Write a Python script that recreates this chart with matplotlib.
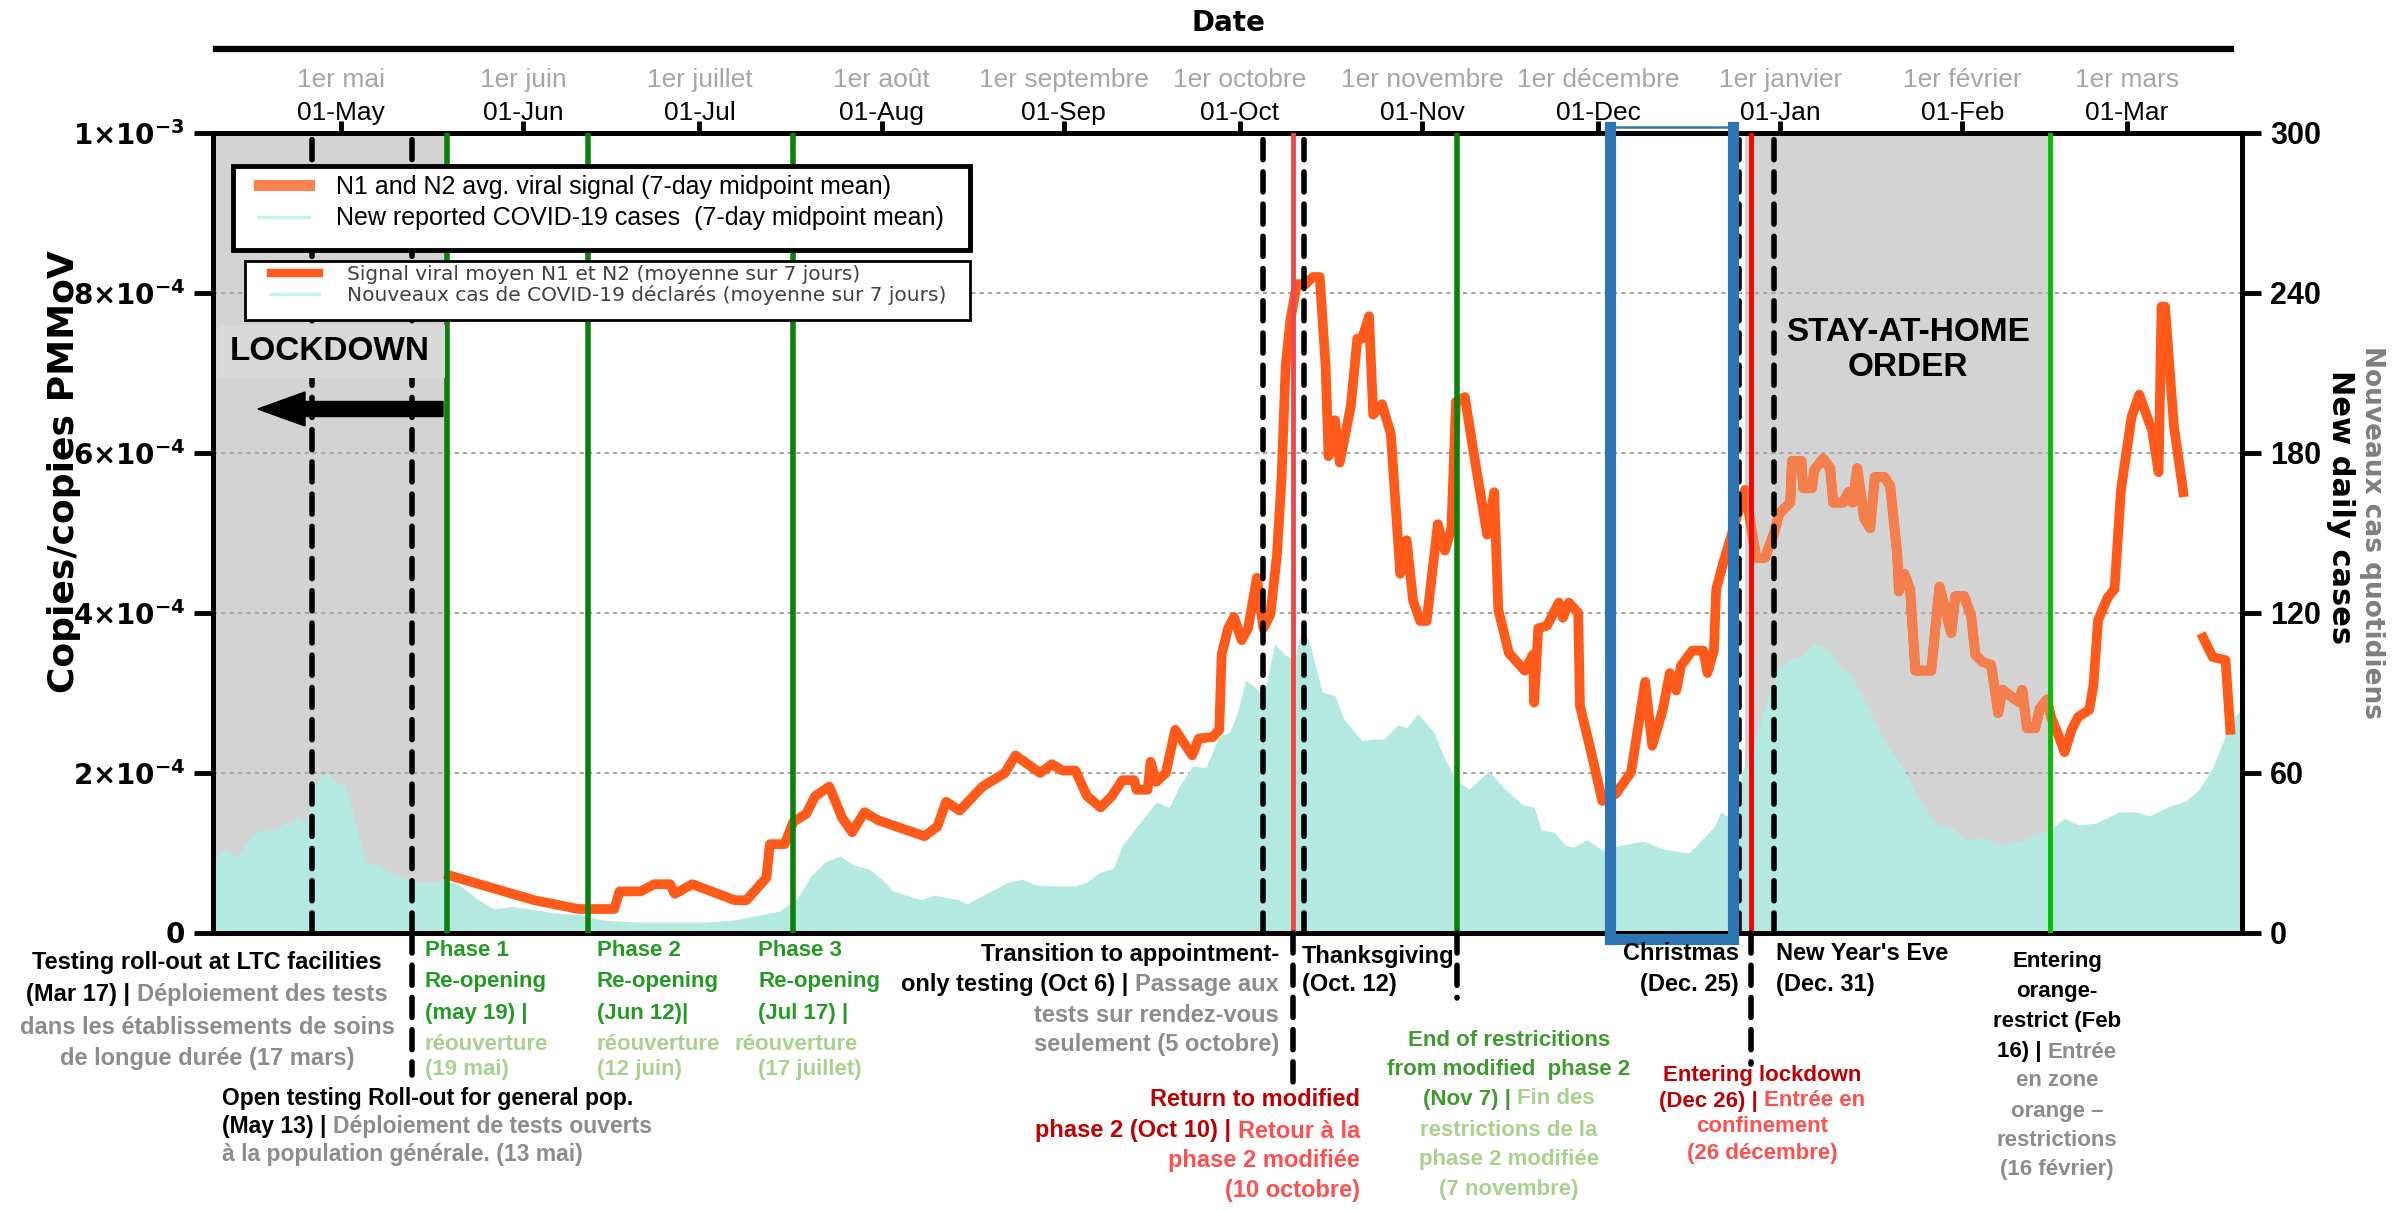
import numpy as np
import matplotlib
matplotlib.use("Agg")
import matplotlib.pyplot as plt
import matplotlib.dates as mdates
from matplotlib import font_manager as fm
from matplotlib.lines import Line2D
from matplotlib.patches import Rectangle, FancyArrow
from datetime import datetime

W, H = 2407, 1210

names = {f.name for f in fm.fontManager.ttflist}
NARROW = "Liberation Sans Narrow" if "Liberation Sans Narrow" in names else "Liberation Sans"
plt.rcParams["font.family"] = "Liberation Sans"
plt.rcParams["mathtext.fontset"] = "dejavusans"

# -------------------------------------------------------
# Data (days counted from 2020-05-01)
# -------------------------------------------------------
BASE = mdates.date2num(datetime(2020, 5, 1))

# N1/N2 viral signal, x 1e-4 copies/copies PMMoV
viral_day = [18.4, 32.9, 40.4, 46.5, 47.4, 51, 53.3, 56, 56.8, 59.8, 67, 69, 72.4, 73, 75.5, 77,
             79.2, 80.7, 83.1, 85.3, 87, 89.1, 91.4, 99.3, 101.5, 103, 105.3, 109.2, 113, 114.8,
             119, 121, 122.8, 125, 127, 129.3, 131.2, 133, 135, 135.4, 137.3, 137.8, 138.8, 140.4,
             142, 144.9, 146, 148.4, 149.5, 149.9, 151, 152, 153.3, 154.4, 155.9, 157, 158.2, 159.3,
             160.1, 160.8, 161.6, 162.7, 164.2, 165.4, 166.6, 167.6, 168.1, 169.2, 170, 171.9, 173,
             173.8, 175, 175.7, 177.2, 178.7, 179.9, 180.3, 181.4, 182.5, 183.7, 184.8, 186.7, 187.9,
             189, 189.8, 191.3, 192.9, 194.7, 195.1, 196.3, 197, 198.8, 201.5, 202.9, 203.1, 203.8,
             205.3, 207.3, 208, 209, 210.6, 210.9, 212.8, 214.7, 217, 219.6, 222, 223.2, 225, 226.2,
             227.3, 228.1, 230, 231.9, 232.6, 233.7, 234.1, 235.3, 236.4, 239, 240.9, 242.4, 244,
             244.8, 246.7, 247, 248.6, 248.9, 250.4, 250.8, 252.3, 253.5, 254, 255.7, 256.6, 257.3,
             258.1, 259.3, 260.3, 261.1, 262.7, 263.7, 264.9, 265.2, 266.1, 267.1, 268, 270.7, 272.1,
             274.1, 274.8, 276.3, 277.5, 278.2, 279.4, 280.9, 282.1, 282.8, 285.5, 286.2, 287, 288.4,
             289.2, 290.4, 291.1, 292.3, 293.4, 294.6, 295.7, 297.6, 298.3, 299.1, 300.7, 301.9, 303,
             304.8, 306.1, 308.3, 309.4, 309.9, 310.5, 312, 313.6]
viral_val = [0.72, 0.41, 0.30, 0.30, 0.52, 0.52, 0.61, 0.61, 0.49, 0.61, 0.41, 0.41, 0.69, 1.11, 1.11, 1.39,
             1.49, 1.71, 1.83, 1.44, 1.26, 1.51, 1.41, 1.21, 1.33, 1.64, 1.53, 1.83, 2.00, 2.22,
             2.00, 2.11, 2.03, 2.03, 1.71, 1.57, 1.71, 1.91, 1.91, 1.79, 1.79, 2.14, 1.89, 2.00,
             2.54, 2.22, 2.43, 2.45, 2.54, 3.48, 3.81, 3.95, 3.66, 3.81, 4.44, 3.81, 3.98, 4.71,
             5.68, 7.09, 7.66, 8.11, 8.11, 8.20, 8.20, 7.09, 5.96, 6.41, 5.88, 6.59, 7.43,
             7.43, 7.71, 6.48, 6.61, 6.24, 4.94, 4.49, 4.91, 4.15, 3.90, 3.90, 5.11, 4.78,
             5.05, 6.64, 6.70, 5.96, 5.16, 4.98, 5.51, 4.04, 3.50, 3.28, 3.48, 2.88, 3.81,
             3.84, 4.13, 3.94, 4.13, 4.00, 2.84, 2.26, 1.65, 1.74, 2.01, 3.14, 2.34, 2.79, 3.25,
             3.03, 3.34, 3.53, 3.53, 3.25, 3.53, 4.30, 4.63, 4.90, 5.54, 4.69, 4.69, 5.01,
             5.24, 5.38, 5.90, 5.90, 5.56, 5.56, 5.79, 5.93, 5.81, 5.38, 5.38, 5.51, 5.38,
             5.81, 5.18, 5.06, 5.70, 5.70, 5.59, 4.74, 4.27, 4.49, 4.30, 3.28, 3.28, 4.33,
             3.75, 4.21, 4.21, 3.96, 3.48, 3.39, 3.35, 2.75, 3.04, 2.89, 3.04, 2.56, 2.56,
             2.81, 2.92, 2.70, 2.48, 2.26, 2.54, 2.70, 2.79, 3.09, 3.91, 4.19, 4.30, 5.54,
             6.45, 6.73, 6.28, 5.76, 7.83, 7.83, 6.34, 5.51]
viral2_day = [317, 318.6, 320.8, 321.6]
viral2_val = [3.69, 3.45, 3.41, 2.54]

# new reported cases (7-day midpoint mean)
case_day = [-21.5, -19.6, -17.7, -16.2, -14.3, -12, -10.6, -9.7, -8.2, -7.5, -6, -4.8, -3.6, -2.2,
            -0.7, 0.5, 1.7, 3.2, 4.3, 6.3, 8.5, 10.7, 12.3, 14.6, 17.2, 19.9, 23, 26, 29.1, 32,
            36.6, 41.2, 44.3, 50.4, 56.4, 62, 67, 74.6, 77.7, 80, 82.3, 85, 87.2, 89.9, 92.2,
            93.9, 98.8, 100.9, 105.3, 106.5, 110.7, 113.6, 116, 118.2, 122.1, 125, 127, 129,
            131.5, 133, 135.4, 138.8, 141, 142.6, 145, 147.2, 149.4, 151.3, 152.5, 154, 155.5,
            157.1, 158.9, 160.8, 162.3, 163.5, 164.7, 165.8, 167, 169.2, 170.7, 173.8, 175.3,
            177.5, 179.9, 181.4, 183.3, 186, 187.9, 189.8, 192, 195.4, 198.1, 201.2, 203.1,
            204.3, 206.5, 208.4, 209.7, 212.1, 214.7, 218.1, 221.6, 225, 229.5, 231.9, 233.7,
            234.9, 236.5, 238.5, 241.4, 242.9, 244.8, 246.3, 248.6, 250.8, 253.2, 255, 256.9,
            260, 263, 266.1, 268.3, 271.4, 274.4, 276.6, 279.7, 282.1, 286.5, 291.1, 293.4,
            295.7, 298.7, 302.6, 305.6, 307.8, 310.9, 314, 316.2, 318.6, 320.8, 322.3, 323.6]
case_val = [28.9, 31.5, 28.5, 33.7, 38.2, 38.5, 39.7, 41.2, 41.2, 44, 41, 52.9, 58.9, 59.6,
            56.2, 55.5, 48, 34.9, 26.6, 25.5, 22.5, 20.6, 19.1, 19.1, 19.9, 18.4, 13.1, 9, 10, 9,
            7.5, 6.7, 4.9, 4.1, 4.1, 4.1, 4.9, 8.2, 13.1, 21.4, 26.6, 28.9, 25.5, 24, 19.9,
            15.8, 12.4, 14.2, 12.4, 10.9, 15.8, 19.1, 20.2, 18, 17.6, 17.6, 19.1, 22.5,
            24.4, 33, 39.7, 49.1, 47.2, 54.7, 62.6, 61.9, 73.5, 75.4, 82.1, 94.9, 92.2,
            88.9, 108.4, 104.2, 102.4, 113.6, 109.9, 100.9, 90.4, 88.9, 80.2, 72, 72.7,
            72.7, 78, 77, 82.1, 75.4, 65.2, 57.4, 54, 60.7, 54, 48, 47.2,
            38.6, 37.9, 33, 32.2, 34.9, 31.1, 33, 34.5, 31.5, 30, 35.6, 39.7,
            45.4, 43, 60, 76.9, 89.2, 99.4, 102.4, 104.2, 108.4, 106.5, 100.1, 97.5,
            84.4, 71.2, 61.1, 51.4, 41.2, 39, 34.9, 35.6, 33, 34.9, 39, 43.1,
            40.5, 41.2, 45.4, 45.4, 43.9, 47.2, 49.5, 53.6, 61.9, 74.2, 81, 84]

month_dates = ["2020-05-01", "2020-06-01", "2020-07-01", "2020-08-01", "2020-09-01", "2020-10-01",
               "2020-11-01", "2020-12-01", "2021-01-01", "2021-02-01", "2021-03-01"]
month_en = ["01-May", "01-Jun", "01-Jul", "01-Aug", "01-Sep", "01-Oct", "01-Nov", "01-Dec",
            "01-Jan", "01-Feb", "01-Mar"]
month_fr = ["1er mai", "1er juin", "1er juillet", "1er août", "1er septembre", "1er octobre",
            "1er novembre", "1er décembre", "1er janvier", "1er février", "1er mars"]

dashed_dates = ["2020-04-26", "2020-05-13", "2020-10-05", "2020-10-12", "2020-12-25", "2020-12-31"]
green_dates = ["2020-05-19", "2020-06-12", "2020-07-17", "2020-11-07"]
red_dates = ["2020-10-10", "2020-12-27"]
orange_zone_date = "2021-02-16"
lockdown_end = "2020-05-19"
stay_home = ("2020-12-26", "2021-02-16")
christmas_box = ("2020-12-03", "2020-12-24")
# dashed leader lines below the axis: date, bottom pixel row
leaders = [("2020-05-13", 1075), ("2020-10-10", 1082), ("2020-11-07", 998), ("2020-12-27", 1064)]

left_ticks = [0, 2e-4, 4e-4, 6e-4, 8e-4, 1e-3]
left_labels = ["$\\mathbf{0}$", "$\\mathbf{2{\\times}10^{-4}}$", "$\\mathbf{4{\\times}10^{-4}}$",
               "$\\mathbf{6{\\times}10^{-4}}$", "$\\mathbf{8{\\times}10^{-4}}$",
               "$\\mathbf{1{\\times}10^{-3}}$"]
right_ticks = [0, 60, 120, 180, 240, 300]

ORANGE = "#FF5A1A"
ORANGE_LIGHT = "#F47E4C"
TEAL = "#B3E9E0"
GREY_BG = "#D3D3D3"
K = "#000000"
G = "#8C8C8C"
DG = "#239B23"
LG = "#A9D18E"
DR = "#C00000"
LR = "#FF5050"


def d(s):
    return mdates.datestr2num(s)


# -------------------------------------------------------
# Figure
# -------------------------------------------------------
fig = plt.figure(figsize=(W / 100, H / 100), dpi=100)
ax = fig.add_axes([213 / W, 1 - 933 / H, (2242 - 213) / W, 800 / H])
ax2 = ax.twinx()

x0, x1 = BASE - 21.8, BASE + 323.6
ax.set_xlim(x0, x1)
ax.set_ylim(0, 300)
ax2.set_ylim(0, 1e-3)

# cases axis on the right, viral axis on the left
ax.yaxis.tick_right()
ax.yaxis.set_label_position("right")
ax2.yaxis.tick_left()
ax2.yaxis.set_label_position("left")

ax.axvspan(x0, d(lockdown_end), color=GREY_BG, lw=0, zorder=0)
ax.axvspan(d(stay_home[0]), d(stay_home[1]), color=GREY_BG, lw=0, zorder=0)

ax.set_axisbelow("line")
ax.set_yticks(right_ticks)
ax.grid(axis="y", color="#A6A6A6", ls=(0, (2, 2)), lw=1.5)

cx = BASE + np.array(case_day)
ax.fill_between(cx, case_val, 0, color=TEAL, lw=0, zorder=2)

vx = BASE + np.array(viral_day)
vy = np.array(viral_val) * 1e-4
ax2.plot(vx, vy, color=ORANGE, lw=7, zorder=3)
ax2.plot(BASE + np.array(viral2_day), np.array(viral2_val) * 1e-4, color=ORANGE, lw=7, zorder=3)
light, = ax2.plot(vx, vy, color=ORANGE_LIGHT, lw=7, zorder=3.1)
clip = Rectangle((d(stay_home[0]) + 0.3, -1), d(stay_home[1]) - d(stay_home[0]) - 0.3, 2,
                 transform=ax2.transData)
light.set_clip_path(clip)

# event lines
dash = (0, (3.6, 2.2))
for s in dashed_dates:
    ax2.axvline(d(s), color=K, lw=4, ls=dash, dash_capstyle="round", zorder=5)
for s in green_dates:
    ax2.axvline(d(s), color="#0B800B", lw=4, zorder=5)
ax2.axvline(d(red_dates[0]), color="#F04848", lw=3.5, zorder=5)
ax2.axvline(d(red_dates[1]), color="#FF0000", lw=3.5, zorder=5)
ax2.axvline(d(orange_zone_date), color="#00C000", lw=3.5, zorder=5)

xt = ax2.get_xaxis_transform()
for s, ybot in leaders:
    ax2.add_line(Line2D([d(s), d(s)], [0, (933 - ybot) / 800], transform=xt, color=K, lw=4,
                        ls=dash, dash_capstyle="round", clip_on=False, zorder=5))

# christmas box
bx0, bx1 = d(christmas_box[0]), d(christmas_box[1])
yb, yt = -0.008, 1.008
for xs, ys, lw in [([bx0, bx0], [yb, yt], 8), ([bx1, bx1], [yb, yt], 8),
                   ([bx0, bx1], [yb, yb], 8), ([bx0, bx1], [yt, yt], 1.8)]:
    ax2.add_line(Line2D(xs, ys, transform=xt, color="#2E75B6", lw=lw, clip_on=False,
                        solid_capstyle="projecting", zorder=6))

# axes styling
for a in (ax, ax2):
    for sp in a.spines.values():
        sp.set_linewidth(3.5)
        sp.set_color("k")

ax.set_xticks([d(s) for s in month_dates])
ax.set_xticklabels(month_en, fontfamily=NARROW, fontsize=19)
ax.tick_params(axis="x", top=True, bottom=False, labeltop=True, labelbottom=False,
               direction="out", length=9, width=3.5, pad=-3)
for m, s in zip(month_dates, month_fr):
    ax.text(d(m), (933 - 80) / 800, s, transform=ax.get_xaxis_transform(), ha="center",
            va="center", fontsize=19, fontfamily=NARROW, color="#A6A6A6")

ax.set_yticklabels([str(v) for v in right_ticks], fontfamily=NARROW, fontweight="bold", fontsize=22)
ax.tick_params(axis="y", direction="out", length=14, width=3.5, pad=6)
ax2.set_yticks(left_ticks)
ax2.set_yticklabels(left_labels, fontsize=20)
ax2.tick_params(axis="y", direction="out", length=14, width=3.5, pad=6)


def fx(x):
    return x / W


def fy(y):
    return 1 - y / H


# headings and axis titles
fig.text(fx(1228), fy(23), "Date", ha="center", va="center", fontsize=20, fontweight="bold",
         fontfamily="DejaVu Sans")
fig.add_artist(Line2D([fx(216), fx(2231)], [fy(49), fy(49)], color="k", lw=4.5))
fig.text(fx(64), fy(472), "Copies/copies PMMoV", rotation=90, ha="center", va="center",
         fontsize=26, fontweight="bold", fontfamily="DejaVu Sans")
fig.text(fx(2341), fy(507), "New daily cases", rotation=270, ha="center", va="center",
         fontsize=22, fontweight="bold", fontfamily="DejaVu Sans")
fig.text(fx(2372), fy(532), "Nouveaux cas quotidiens", rotation=270, ha="center", va="center",
         fontsize=19, fontweight="bold", fontfamily="DejaVu Sans", color="#7F7F7F")

# lockdown / stay-at-home labels
fig.add_artist(Rectangle((fx(218), fy(378)), fx(445 - 218), (378 - 325) / H, facecolor="#D9D9D9",
                         edgecolor="none", zorder=3))
fig.text(fx(330), fy(351), "LOCKDOWN", ha="center", va="center", fontsize=24,
         fontweight="bold", zorder=4)
fig.add_artist(FancyArrow(fx(443), fy(409), fx(258 - 443), 0, width=15 / H, head_width=34 / H,
                          head_length=47 / W, length_includes_head=True, color="k", zorder=4))
fig.text(fx(1908), fy(350), "STAY-AT-HOME\nORDER", ha="center", va="center", fontsize=24,
         fontweight="bold", linespacing=1.15, zorder=4)

# legends
fig.add_artist(Rectangle((fx(233), fy(250)), fx(970 - 233), (250 - 166) / H, facecolor="white",
                         edgecolor="k", lw=3.5, zorder=4))
h1 = [Line2D([], [], color="#FF8050", lw=8), Line2D([], [], color="#C8F0EC", lw=2.5)]
leg1 = fig.legend(h1, ["N1 and N2 avg. viral signal (7-day midpoint mean)",
                       "New reported COVID-19 cases  (7-day midpoint mean)"],
                  loc="upper left", bbox_to_anchor=(fx(259), fy(175)), frameon=False,
                  fontsize=18, handlelength=2.0, handletextpad=1.1, borderpad=0,
                  borderaxespad=0, labelspacing=0.3)
leg1.set_zorder(5)
fig.add_artist(Rectangle((fx(245), fy(320)), fx(970 - 245), (320 - 261) / H, facecolor="white",
                         edgecolor="k", lw=2, zorder=4))
h2 = [Line2D([], [], color=ORANGE, lw=6), Line2D([], [], color="#C8F0EC", lw=2.5)]
leg2 = fig.legend(h2, ["Signal viral moyen N1 et N2 (moyenne sur 7 jours)",
                       "Nouveaux cas de COVID-19 déclarés (moyenne sur 7 jours)"],
                  loc="upper left", bbox_to_anchor=(fx(271), fy(265)), frameon=False,
                  prop={"family": "DejaVu Sans", "size": 14.5}, handlelength=2.4,
                  handletextpad=1.35, borderpad=0, borderaxespad=0, labelspacing=0.05)
for t in leg2.get_texts():
    t.set_color("#404040")
leg2.set_zorder(5)

# -------------------------------------------------------
# Annotations below the axis
# -------------------------------------------------------
R = fig.canvas.get_renderer()
ANN = dict(fontsize=17, fontweight="bold")


def text_width(s, **kw):
    t1 = fig.text(0, 0, s + ".", **kw)
    t2 = fig.text(0, 0, ".", **kw)
    w = t1.get_window_extent(R).width - t2.get_window_extent(R).width
    t1.remove()
    t2.remove()
    return w


def rich_line(x, y, parts, ha="left", **kw):
    kw = {**ANN, **kw}
    total = text_width("".join(p for p, _ in parts), **kw)
    pos = x if ha == "left" else (x - total / 2 if ha == "center" else x - total)
    for s, c in parts:
        fig.text(fx(pos), fy(y), s, color=c, ha="left", va="center", **kw)
        pos += text_width(s, **kw)


def block(x, ys, lines, ha="left", **kw):
    for y, parts in zip(ys, lines):
        rich_line(x, y, parts, ha, **kw)


block(207, [962, 995, 1027, 1059], [
    [("Testing roll-out at LTC facilities", K)],
    [("(Mar 17) | ", K), ("Déploiement des tests", G)],
    [("dans les établissements de soins", G)],
    [("de longue durée (17 mars)", G)]], ha="center")
block(222, [1099, 1127, 1154], [
    [("Open testing Roll-out for general pop.", K)],
    [("(May 13) | ", K), ("Déploiement de tests ouverts", G)],
    [("à la population générale. (13 mai)", G)]], fontsize=16.5)
block(425, [950, 981, 1013, 1044, 1070], [
    [("Phase 1", DG)], [("Re-opening", DG)], [("(may 19) |", DG)],
    [("réouverture", LG)], [("(19 mai)", LG)]], fontsize=16)
block(597, [950, 981, 1013, 1044, 1070], [
    [("Phase 2", DG)], [("Re-opening", DG)], [("(Jun 12)|", DG)],
    [("réouverture", LG)], [("(12 juin)", LG)]], fontsize=16)
block(758, [950, 981, 1013], [
    [("Phase 3", DG)], [("Re-opening", DG)], [("(Jul 17) |", DG)]], fontsize=16)
block(735, [1044], [[("réouverture", LG)]], fontsize=16)
block(758, [1070], [[("(17 juillet)", LG)]], fontsize=16)
block(1279, [955, 985, 1015, 1045], [
    [("Transition to appointment-", K)],
    [("only testing (Oct 6) | ", K), ("Passage aux", G)],
    [("tests sur rendez-vous", G)],
    [("seulement (5 octobre)", G)]], ha="right")
block(1302, [956, 984], [[("Thanksgiving", K)], [("(Oct. 12)", K)]])
block(1360, [1099, 1131, 1160, 1191], [
    [("Return to modified", DR)],
    [("phase 2 (Oct 10) | ", DR), ("Retour à la", LR)],
    [("phase 2 modifiée", LR)],
    [("(10 octobre)", LR)]], ha="right")
block(1509, [1041, 1070, 1099, 1130, 1160, 1190], [
    [("End of restricitions", "#3E9B2E")],
    [("from modified  phase 2", "#3E9B2E")],
    [("(Nov 7) | ", "#3E9B2E"), ("Fin des", LG)],
    [("restrictions de la", LG)],
    [("phase 2 modifiée", LG)],
    [("(7 novembre)", LG)]], ha="center", fontsize=16)
block(1739, [953, 984], [[("Christmas", K)], [("(Dec. 25)", K)]], ha="right")
block(1776, [953, 984], [[("New Year's Eve", K)], [("(Dec. 31)", K)]])
block(1762, [1075, 1101, 1127, 1153], [
    [("Entering lockdown", DR)],
    [("(Dec 26) | ", DR), ("Entrée en", LR)],
    [("confinement", LR)],
    [("(26 décembre)", LR)]], ha="center", fontsize=16)
block(2057, [962, 992, 1022, 1052, 1081, 1111, 1141, 1170], [
    [("Entering", K)], [("orange-", K)], [("restrict (Feb", K)],
    [("16) | ", K), ("Entrée", G)], [("en zone", G)], [("orange –", G)],
    [("restrictions", G)], [("(16 février)", G)]], ha="center", fontsize=16)

fig.savefig("out.png", dpi=100)
